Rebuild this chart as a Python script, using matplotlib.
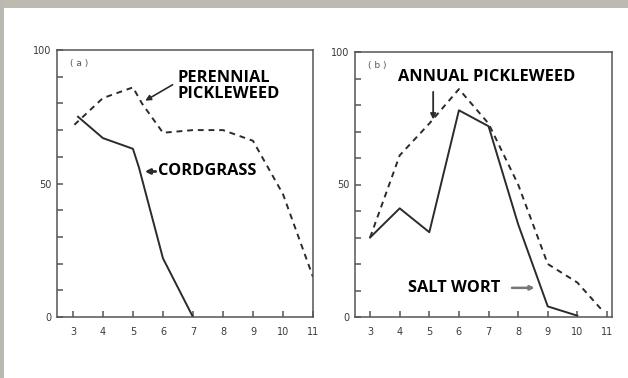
import numpy as np
import matplotlib.pyplot as plt
from matplotlib.patches import Rectangle

# panel (a): cordgrass and perennial pickleweed
a_cord_x = [3.17, 4, 5, 5.2, 6, 7]
a_cord_y = [75, 67, 63, 56, 22, 0]
a_pere_x = [3.05, 4, 5, 5.3, 6, 7, 8, 9, 10, 11]
a_pere_y = [72, 82, 86, 80, 69, 70, 70, 66, 46, 15]

# panel (b): salt wort and annual pickleweed
b_salt_x = [3, 4, 5, 6, 7, 8, 9, 10]
b_salt_y = [30, 41, 32, 78, 72, 35, 4, 0.5]
b_annu_x = [3, 4, 5, 6, 7, 8, 9, 10, 10.8]
b_annu_y = [30, 61, 73, 86, 73, 50, 20, 13, 3]

xticks = [3, 4, 5, 6, 7, 8, 9, 10, 11]
yticks = [0, 50, 100]

ink = '#2b2b2b'
W, H = 628, 378

fig = plt.figure(figsize=(6.28, 3.78), dpi=100)
fig.patch.set_facecolor('white')

# gray scanner edges along top and left
fig.patches.append(Rectangle((0, 1 - 8 / H), 1, 8 / H, transform=fig.transFigure,
                             facecolor='#bdbbb1', edgecolor='none', zorder=0))
fig.patches.append(Rectangle((0, 0), 4 / W, 1, transform=fig.transFigure,
                             facecolor='#b9b9b1', edgecolor='none', zorder=0))


def make_panel(left, right, top, xmin, xmax, tag):
    ax = fig.add_axes([left / W, 1 - 317 / H, (right - left) / W, (317 - top) / H])
    ax.set_xlim(xmin, xmax)
    ax.set_ylim(0, 100)
    ax.set_xticks(xticks)
    ax.set_xticklabels([str(v) for v in xticks], fontsize=7, color='#3a3a3a')
    ax.set_yticks(yticks)
    ax.set_yticklabels([str(v) for v in yticks], fontsize=7, color='#3a3a3a')
    ax.set_yticks(np.arange(10, 100, 10), minor=True)
    ax.tick_params(axis='x', direction='in', length=4.5, width=1.1, color='#555555', pad=7)
    ax.tick_params(axis='y', direction='in', length=4.5, width=1.1, color='#555555', pad=4)
    ax.tick_params(axis='y', which='minor', direction='in', length=4.5, width=1.1,
                   color='#555555')
    for s in ax.spines.values():
        s.set_color('#555555')
        s.set_linewidth(1.1)
    ax.text(0.05, 0.95, tag, transform=ax.transAxes, fontsize=6.5, color='#555555',
            va='center', ha='left')
    return ax


bold = dict(family='Open Sans', fontweight='bold', fontsize=11.8, color='black')

ax1 = make_panel(57, 313, 50, 2.47, 11.0, '( a )')
ax1.plot(a_cord_x, a_cord_y, color=ink, lw=1.4)
ax1.plot(a_pere_x, a_pere_y, color=ink, lw=1.4, ls=(0, (3, 2.5)))
ax1.text(6.5, 86.5, 'PERENNIAL\nPICKLEWEED', ha='left', va='center', linespacing=1.05, **bold)
ax1.annotate('', xy=(5.33, 80.5), xytext=(6.4, 87.5),
             arrowprops=dict(arrowstyle='-|>', color=ink, lw=1.2, mutation_scale=8))
ax1.text(5.83, 54.5, 'CORDGRASS', ha='left', va='center', **bold)
ax1.annotate('', xy=(5.3, 54.5), xytext=(5.85, 54.5),
             arrowprops=dict(arrowstyle='-|>', color=ink, lw=2.0, mutation_scale=7))

ax2 = make_panel(355, 612, 52, 2.49, 11.17, '( b )')
ax2.plot(b_salt_x, b_salt_y, color=ink, lw=1.4)
ax2.plot(b_annu_x, b_annu_y, color=ink, lw=1.4, ls=(0, (3, 2.5)))
ax2.text(3.95, 90.5, 'ANNUAL PICKLEWEED', ha='left', va='center', **bold)
ax2.annotate('', xy=(5.13, 73.5), xytext=(5.13, 86),
             arrowprops=dict(arrowstyle='-|>', color=ink, lw=1.3, mutation_scale=8))
ax2.text(4.28, 11, 'SALT WORT', ha='left', va='center', **bold)
ax2.annotate('', xy=(8.65, 11), xytext=(7.7, 11),
             arrowprops=dict(arrowstyle='-|>', color='#777777', lw=1.8, mutation_scale=6))

fig.savefig('out.png', dpi=100)
